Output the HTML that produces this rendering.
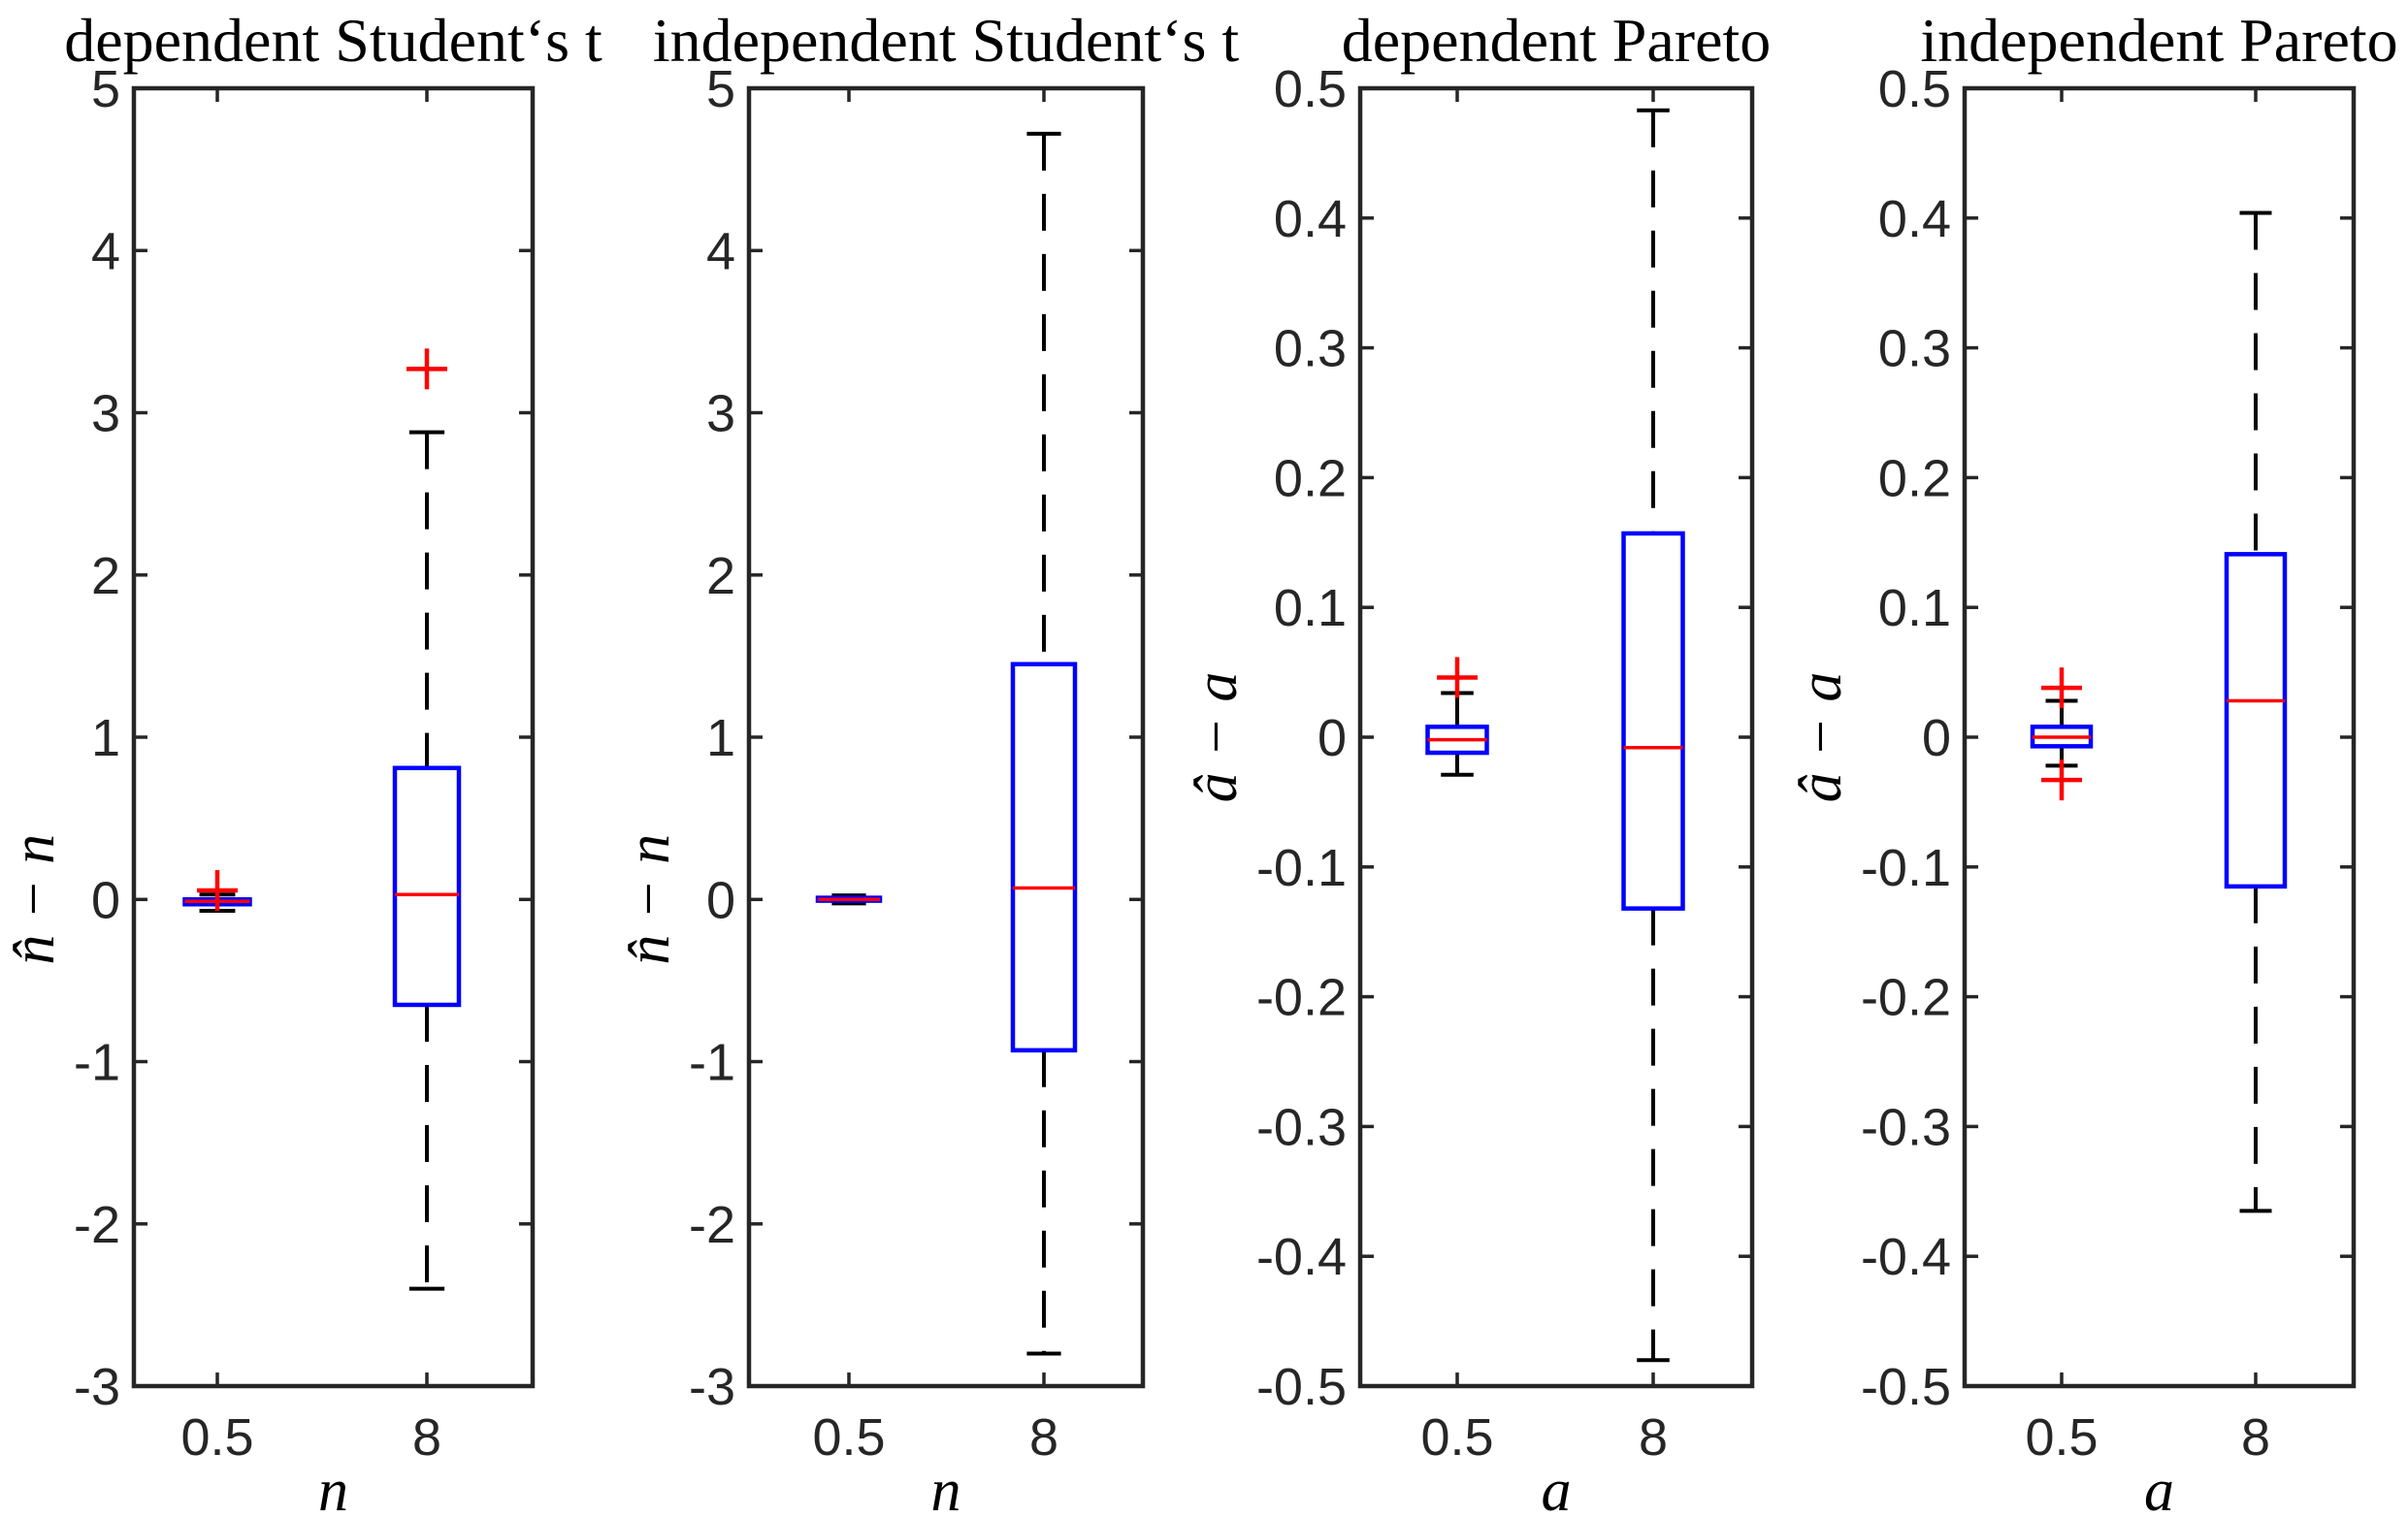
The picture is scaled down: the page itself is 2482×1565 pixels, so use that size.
<!DOCTYPE html>
<html><head><meta charset="utf-8"><style>
html,body{margin:0;padding:0;background:#fff;}
svg{display:block;}
</style></head><body>
<svg id="s" width="2482" height="1565" xmlns="http://www.w3.org/2000/svg"></svg>
<script>
const S=document.getElementById('s');
let h='';
const T=91,B=1429;
const panels=[
 {l:138,r:549,min:-3,max:5,ticks:[-3,-2,-1,0,1,2,3,4,5],fmt:v=>String(v),xs:[224,440],bw:[67,66],
  title:'dependent Student‘s t',yl:'n̂ − n',xl:'n',
  boxes:[{q3:0.0,q1:-0.03,med:-0.012,wh:0.03,wl:-0.07,out:[0.055]},
         {q3:0.81,q1:-0.65,med:0.03,wh:2.88,wl:-2.4,out:[3.27]}]},
 {l:772,r:1178,min:-3,max:5,ticks:[-3,-2,-1,0,1,2,3,4,5],fmt:v=>String(v),xs:[875,1076],bw:[64,64],
  title:'independent Student‘s t',yl:'n̂ − n',xl:'n',
  boxes:[{q3:0.01,q1:-0.008,med:0.0,wh:0.025,wl:-0.025,out:[]},
         {q3:1.45,q1:-0.93,med:0.07,wh:4.72,wl:-2.8,out:[]}]},
 {l:1402,r:1806,min:-0.5,max:0.5,ticks:[-0.5,-0.4,-0.3,-0.2,-0.1,0,0.1,0.2,0.3,0.4,0.5],fmt:v=>v===0?'0':v.toFixed(1),xs:[1502,1704],bw:[61,61],
  title:'dependent Pareto',yl:'â − a',xl:'a',
  boxes:[{q3:0.008,q1:-0.012,med:-0.002,wh:0.034,wl:-0.029,out:[0.046]},
         {q3:0.157,q1:-0.132,med:-0.008,wh:0.483,wl:-0.48,out:[]}]},
 {l:2025,r:2426,min:-0.5,max:0.5,ticks:[-0.5,-0.4,-0.3,-0.2,-0.1,0,0.1,0.2,0.3,0.4,0.5],fmt:v=>v===0?'0':v.toFixed(1),xs:[2125,2325],bw:[60,60],
  title:'independent Pareto',yl:'â − a',xl:'a',
  boxes:[{q3:0.008,q1:-0.007,med:0.0,wh:0.028,wl:-0.022,out:[0.038,-0.033]},
         {q3:0.141,q1:-0.115,med:0.028,wh:0.404,wl:-0.365,out:[]}]}
];
const K='#262626';
for(const p of panels){
  const y=v=>B-(v-p.min)/(p.max-p.min)*(B-T);
  for(const t of p.ticks){const yy=y(t).toFixed(1);
    h+=`<line x1="${p.l}" y1="${yy}" x2="${p.l+14}" y2="${yy}" stroke="${K}" stroke-width="3.5"/>`;
    h+=`<line x1="${p.r}" y1="${yy}" x2="${p.r-14}" y2="${yy}" stroke="${K}" stroke-width="3.5"/>`;
    h+=`<text x="${p.l-14}" y="${(+yy+19).toFixed(1)}" text-anchor="end" font-family="Liberation Sans, sans-serif" font-size="54" fill="${K}">${p.fmt(t)}</text>`;
  }
  p.xs.forEach((x,i)=>{
    h+=`<line x1="${x}" y1="${B}" x2="${x}" y2="${B-14}" stroke="${K}" stroke-width="3.5"/>`;
    h+=`<line x1="${x}" y1="${T}" x2="${x}" y2="${T+14}" stroke="${K}" stroke-width="3.5"/>`;
    h+=`<text x="${x}" y="${B+71}" text-anchor="middle" font-family="Liberation Sans, sans-serif" font-size="54" fill="${K}">${i?'8':'0.5'}</text>`;
    const b=p.boxes[i],w=p.bw[i]/2,cw=w*0.55;
    h+=`<line x1="${x}" y1="${y(b.wh)}" x2="${x}" y2="${y(b.q3)}" stroke="#000" stroke-width="4" stroke-dasharray="38,24"/>`;
    h+=`<line x1="${x}" y1="${y(b.q1)}" x2="${x}" y2="${y(b.wl)}" stroke="#000" stroke-width="4" stroke-dasharray="38,24"/>`;
    h+=`<line x1="${x-cw}" y1="${y(b.wh)}" x2="${x+cw}" y2="${y(b.wh)}" stroke="#000" stroke-width="4"/>`;
    h+=`<line x1="${x-cw}" y1="${y(b.wl)}" x2="${x+cw}" y2="${y(b.wl)}" stroke="#000" stroke-width="4"/>`;
    h+=`<rect x="${x-w}" y="${y(b.q3)}" width="${2*w}" height="${Math.max(2,y(b.q1)-y(b.q3))}" fill="none" stroke="#0000ff" stroke-width="4.5"/>`;
    h+=`<line x1="${x-w}" y1="${y(b.med)}" x2="${x+w}" y2="${y(b.med)}" stroke="#ff0000" stroke-width="3.5"/>`;
    for(const o of b.out){const oy=y(o);
      h+=`<line x1="${x-21}" y1="${oy}" x2="${x+21}" y2="${oy}" stroke="#ff0000" stroke-width="4.5"/>`;
      h+=`<line x1="${x}" y1="${oy-21}" x2="${x}" y2="${oy+21}" stroke="#ff0000" stroke-width="4.5"/>`;}
  });
  h+=`<rect x="${p.l}" y="${T}" width="${p.r-p.l}" height="${B-T}" fill="none" stroke="${K}" stroke-width="4.5"/>`;
  const cx=(p.l+p.r)/2;
  h+=`<text x="${cx}" y="63" text-anchor="middle" font-family="Liberation Serif, serif" font-size="64" fill="#000">${p.title}</text>`;
  h+=`<text x="${cx}" y="1557" text-anchor="middle" font-family="Liberation Serif, serif" font-style="italic" font-size="62" fill="#000">${p.xl}</text>`;
  const yx=p.l-(p.min<-1?83:128);
  h+=`<text transform="translate(${yx},${y(0)}) rotate(-90)" text-anchor="middle" font-family="Liberation Serif, serif" font-style="italic" font-size="62" fill="#000">${p.yl}</text>`;
}
S.innerHTML=h;
</script>
</body></html>
